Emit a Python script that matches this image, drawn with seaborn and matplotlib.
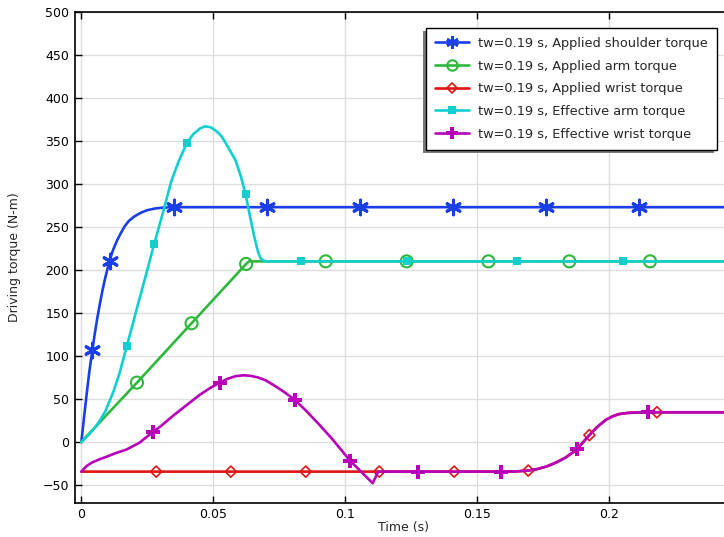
import numpy as np
import pandas as pd
import matplotlib
matplotlib.use("Agg")
import matplotlib.pyplot as plt
import seaborn as sns
from matplotlib.lines import Line2D
from matplotlib.patches import Rectangle
from matplotlib.transforms import IdentityTransform

# ---- data ----
t_sh = [0, 0.001, 0.002, 0.003, 0.0042, 0.005, 0.006, 0.007, 0.008, 0.009, 0.0107, 0.012, 0.0135,
        0.015, 0.0165, 0.018, 0.02, 0.0225, 0.025, 0.028, 0.031, 0.035, 0.2465]
y_sh = [0, 28, 55, 81, 107, 124, 143, 160, 176, 190, 211, 223, 234,
        243, 251, 257, 262, 266.5, 269.5, 271.5, 272.5, 273, 273]
mt_sh = [0.0042, 0.0107, 0.0352, 0.0705, 0.1057, 0.141, 0.1762, 0.2115]
my_sh = [107, 211, 273, 273, 273, 273, 273, 273]

t_arm = [0, 0.0211, 0.0418, 0.0625, 0.0636, 0.2465]
y_arm = [0, 69, 138, 207, 210, 210]
mt_arm = [0.0211, 0.0418, 0.0625, 0.0927, 0.1234, 0.1544, 0.1851, 0.2157]
my_arm = [69, 138, 207, 210, 210, 210, 210, 210]

t_wr = [0, 0.16, 0.165, 0.1695, 0.173, 0.1765, 0.18, 0.1835, 0.1865, 0.1881, 0.1904, 0.1927,
        0.1955, 0.1989, 0.2015, 0.2038, 0.207, 0.211, 0.2183, 0.2465]
y_wr = [-34.5, -34.5, -34.2, -33.3, -31.5, -28.5, -24, -18.5, -12, -8, 0, 8,
        17, 25.6, 29.8, 32.3, 33.7, 34.3, 34.5, 34.5]
mt_wr = [0.0284, 0.0567, 0.0851, 0.113, 0.1414, 0.1695, 0.1927, 0.2183]
my_wr = [-34.5, -34.5, -34.5, -34.5, -34.5, -33.3, 8, 34.5]

t_earm = [0, 0.003, 0.006, 0.009, 0.012, 0.0145, 0.0172, 0.0195, 0.0213, 0.0245, 0.0276, 0.031,
          0.0341, 0.037, 0.0401, 0.0425, 0.045, 0.0469, 0.049, 0.051, 0.0533, 0.0558, 0.0584,
          0.0605, 0.0623, 0.064, 0.0655, 0.067, 0.068, 0.069, 0.0705, 0.2465]
y_earm = [0, 9, 20, 35, 57, 80, 111, 137, 158, 194, 230, 267,
          303, 327, 348, 358, 364.5, 367, 366, 362, 355, 342, 328,
          309, 288, 262, 240, 221, 213.5, 211, 210, 210]
mt_earm = [0.0172, 0.0276, 0.0401, 0.0623, 0.0835, 0.1234, 0.1651, 0.2054]
my_earm = [111, 230, 348, 288, 210, 210, 210, 210]

t_ewr = [0, 0.002, 0.004, 0.007, 0.0093, 0.013, 0.017, 0.022, 0.0273, 0.03, 0.035, 0.04, 0.045,
         0.049, 0.0525, 0.0555, 0.0585, 0.0616, 0.064, 0.067, 0.07, 0.073, 0.0765, 0.081, 0.085,
         0.09, 0.095, 0.102, 0.1105, 0.1126, 0.16, 0.165, 0.1695, 0.173, 0.1765, 0.18, 0.1835,
         0.1865, 0.1881, 0.1904, 0.1927, 0.1955, 0.1989, 0.2015, 0.2038, 0.207, 0.211, 0.2151,
         0.2465]
y_ewr = [-34.5, -28, -24, -20, -17.5, -13, -9, -1, 12, 18, 31, 43, 55,
         63, 69, 73.5, 76.5, 77.5, 77, 75, 71.5, 66, 59, 49, 37,
         21, 4, -22, -48, -34.5, -34.5, -34.2, -33.3, -31.5, -28.5, -24, -18.5,
         -12, -8, 0, 8, 17, 25.6, 29.8, 32.3, 33.7, 34.3, 34.5,
         34.5]
mt_ewr = [0.0273, 0.0525, 0.081, 0.102, 0.1276, 0.159, 0.1881, 0.2151]
my_ewr = [12, 69, 49, -22, -34.5, -34.5, -8, 34.5]

labels = ["tw=0.19 s, Applied shoulder torque",
          "tw=0.19 s, Applied arm torque",
          "tw=0.19 s, Applied wrist torque",
          "tw=0.19 s, Effective arm torque",
          "tw=0.19 s, Effective wrist torque"]

x_ticks = [0, 0.05, 0.1, 0.15, 0.2]
x_tick_labels = ["0", "0.05", "0.1", "0.15", "0.2"]
y_ticks = list(range(-50, 501, 50))

# ---- styling ----
sns.set_theme(style="whitegrid")
plt.rcParams['font.family'] = ['DejaVu Sans']

colors = ["#1a3ee8", "#2db83d", "#e01515", "#12cfcf", "#b800b8"]
asterisk = (6, 2, 0)
mstyles = [
    dict(marker=asterisk, s=110, linewidth=2.2, facecolors=colors[0], edgecolors=colors[0]),
    dict(marker="o", s=75, linewidth=1.5, facecolors="none", edgecolors=colors[1]),
    dict(marker="D", s=32, linewidth=1.2, facecolors="none", edgecolors=colors[2]),
    dict(marker="s", s=38, linewidth=0, facecolors=colors[3], edgecolors=colors[3]),
    dict(marker="P", s=95, linewidth=0, facecolors=colors[4], edgecolors=colors[4]),
]
leg_ms = [9, 7.5, 5.5, 6, 8.5]
leg_mew = [2.0, 1.5, 1.2, 0, 0]

fig = plt.figure(figsize=(7.24, 5.37), dpi=100)
ax = fig.add_axes([0.1036, 0.0633, 0.9064, 0.9144])

series = [(t_sh, y_sh, mt_sh, my_sh), (t_arm, y_arm, mt_arm, my_arm),
          (t_wr, y_wr, mt_wr, my_wr), (t_earm, y_earm, mt_earm, my_earm),
          (t_ewr, y_ewr, mt_ewr, my_ewr)]

for i, (t, y, mt, my) in enumerate(series):
    df = pd.DataFrame({"t": t, "y": y})
    sns.lineplot(data=df, x="t", y="y", ax=ax, color=colors[i], linewidth=1.9,
                 estimator=None, sort=False, zorder=3 + i)
    dm = pd.DataFrame({"t": mt, "y": my})
    sns.scatterplot(data=dm, x="t", y="y", ax=ax, zorder=3.5 + i, legend=False, **mstyles[i])

ax.set_xlim(-0.0024, 0.2465)
ax.set_ylim(-71, 500)
ax.set_xticks(x_ticks)
ax.set_xticklabels(x_tick_labels)
ax.set_yticks(y_ticks)
ax.set_xlabel("Time (s)", fontsize=9, labelpad=0)
ax.set_ylabel("Driving torque (N-m)", fontsize=9, labelpad=16)
ax.tick_params(axis="both", direction="in", length=5, width=1, colors="black",
               labelsize=9, pad=4, bottom=True, left=True)
ax.tick_params(axis="x", pad=3.5, top=True)
ax.grid(True, color="#dddddd", linewidth=1)
ax.set_facecolor("white")
for side in ["left", "bottom", "top"]:
    ax.spines[side].set_visible(True)
    ax.spines[side].set_color("black")
    ax.spines[side].set_linewidth(1.2)
ax.spines["right"].set_visible(False)

handles = []
for i in range(5):
    st = mstyles[i]
    handles.append(Line2D([0], [0], color=colors[i], linewidth=1.9, marker=st["marker"],
                          markersize=leg_ms[i],
                          markerfacecolor=("none" if st["facecolors"] == "none" else colors[i]),
                          markeredgecolor=colors[i], markeredgewidth=leg_mew[i]))
leg = ax.legend(handles, labels, loc="upper right", bbox_to_anchor=(0.9776, 0.9677),
                fontsize=9.3, frameon=True, fancybox=False, framealpha=1,
                edgecolor="black", handlelength=2.6, handletextpad=0.7,
                borderpad=0.7, labelspacing=0.75, borderaxespad=0)
leg.get_frame().set_linewidth(1.0)
leg.set_zorder(20)

# shadow offset down-left, as in the reference
fig.canvas.draw()
bb = leg.get_window_extent()
ax.add_artist(Rectangle((bb.x0 - 3, bb.y0 - 3), bb.width, bb.height, transform=IdentityTransform(),
                        facecolor="#7a7a7a", edgecolor="none", zorder=19, clip_on=False))

fig.savefig("out.png", dpi=100)
